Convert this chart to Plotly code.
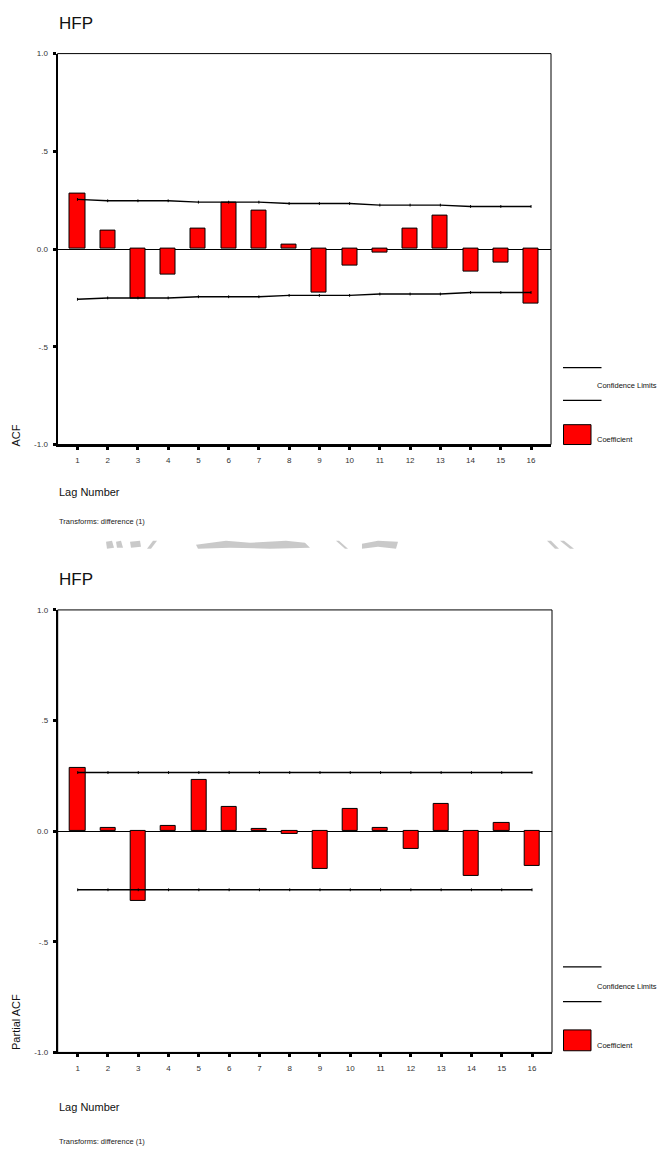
import plotly.graph_objects as go

# ---- data -------------------------------------------------------------
lags = list(range(1, 17))
lag_labels = [str(k) for k in lags]

acf_coef = [0.283, 0.095, -0.255, -0.130, 0.103, 0.239, 0.196, 0.024,
            -0.222, -0.086, -0.020, 0.103, 0.170, -0.115, -0.069, -0.281]
acf_upper = [0.254, 0.247, 0.247, 0.247, 0.240, 0.240, 0.240, 0.233,
             0.233, 0.233, 0.225, 0.225, 0.225, 0.218, 0.218, 0.218]
acf_lower = [-0.257, -0.250, -0.250, -0.250, -0.244, -0.244, -0.244, -0.237,
             -0.237, -0.237, -0.230, -0.230, -0.230, -0.222, -0.222, -0.222]

pacf_coef = [0.284, 0.016, -0.317, 0.022, 0.232, 0.110, 0.009, -0.013,
             -0.172, 0.101, 0.016, -0.080, 0.124, -0.204, 0.037, -0.159]
pacf_upper = [0.265] * 16
pacf_lower = [-0.265] * 16

y_tickvals = [-1.0, -0.5, 0.0, 0.5, 1.0]
y_ticktext = ["-1.0", "-.5", "0.0", ".5", "1.0"]

series_name = "HFP"
x_title = "Lag Number"
note_text = "Transforms: difference (1)"
legend_ci = "Confidence Limits"
legend_coef = "Coefficient"

# ---- page geometry (pixels) ------------------------------------------
W, H = 660, 1151
FONT = "Liberation Sans, Arial, sans-serif"


def px(x):
    return x / W


def py(y):
    return 1 - y / H


panels = [
    dict(coef=acf_coef, up=acf_upper, lo=acf_lower, ytitle="ACF",
         left=57.5, right=551.0, top=50.0, bottom=444.0, title_y=20,
         lag_y=492, note_y=521.5, ytitle_y=435,
         leg_l1=366.5, leg_txt=384.5, leg_l2=399.5, leg_box=(424, 444), leg_coef=438.5),
    dict(coef=pacf_coef, up=pacf_upper, lo=pacf_lower, ytitle="Partial ACF",
         left=57.7, right=552.0, top=610.7, bottom=1056.7, title_y=580,
         lag_y=1112, note_y=1146, ytitle_y=1026,
         leg_l1=970.5, leg_txt=990.5, leg_l2=1005.5, leg_box=(1034, 1055), leg_coef=1050),
]

fig = go.Figure()
shapes = []
annotations = []

for i, p in enumerate(panels):
    n = "" if i == 0 else str(i + 1)
    xa, ya = "x" + n, "y" + n

    fig.add_trace(go.Bar(
        x=lags, y=p["coef"], width=0.5, xaxis=xa, yaxis=ya,
        marker=dict(color="#FF0000", line=dict(color="#000000", width=1)),
        showlegend=False, hoverinfo="skip"))
    for band in (p["up"], p["lo"]):
        fig.add_trace(go.Scatter(
            x=lags, y=band, mode="lines+markers", xaxis=xa, yaxis=ya,
            line=dict(color="#000000", width=1.4),
            marker=dict(symbol="line-ns", size=2,
                        line=dict(color="#000000", width=1)),
            showlegend=False, hoverinfo="skip"))

    common_x = dict(
        domain=[px(p["left"]), px(p["right"])], range=[0.34, 16.66],
        tickmode="array", tickvals=lags, ticktext=lag_labels,
        ticks="outside", ticklen=3, tickwidth=3, tickcolor="#000000",
        showline=True, linewidth=2, linecolor="#000000",
        showgrid=False, zeroline=False, fixedrange=True,
        ticklabelstandoff=4,
        tickfont=dict(family=FONT, size=8, color="#333333"),
        anchor=ya)
    common_y = dict(
        domain=[py(p["bottom"]), py(p["top"])], range=[-1, 1],
        tickmode="array", tickvals=y_tickvals, ticktext=y_ticktext,
        ticks="outside", ticklen=3, tickwidth=3, tickcolor="#000000",
        showline=True, linewidth=2, linecolor="#000000",
        showgrid=False, zeroline=True, zerolinecolor="#000000",
        zerolinewidth=1, fixedrange=True, ticklabelstandoff=3,
        tickfont=dict(family=FONT, size=8, color="#333333"),
        anchor=xa)
    fig.update_layout(**{"xaxis" + n: common_x, "yaxis" + n: common_y})

    # thin frame around the plotting area
    shapes.append(dict(type="rect", xref=xa + " domain", yref=ya + " domain",
                       x0=0, x1=1, y0=0, y1=1,
                       line=dict(color="#000000", width=1), layer="above"))

    # chart title and captions
    annotations += [
        dict(text=series_name, x=px(57), y=py(p["title_y"]), xanchor="left",
             yanchor="middle", font=dict(family=FONT, size=17, color="#111111")),
        dict(text=x_title, x=px(56.5), y=py(p["lag_y"]), xanchor="left",
             yanchor="middle", font=dict(family=FONT, size=11, color="#111111")),
        dict(text=note_text, x=px(56.5), y=py(p["note_y"]), xanchor="left",
             yanchor="middle", font=dict(family=FONT, size=7.5, color="#222222")),
        dict(text=p["ytitle"], x=px(16), y=py(p["ytitle_y"]), xanchor="center",
             yanchor="middle", textangle=-90,
             font=dict(family=FONT, size=11, color="#111111")),
        dict(text=legend_ci, x=px(594.5), y=py(p["leg_txt"]), xanchor="left",
             yanchor="middle", font=dict(family=FONT, size=7.5, color="#111111")),
        dict(text=legend_coef, x=px(594.5), y=py(p["leg_coef"]), xanchor="left",
             yanchor="middle", font=dict(family=FONT, size=7.5, color="#111111")),
    ]

    # legend keys
    for ly in (p["leg_l1"], p["leg_l2"]):
        shapes.append(dict(type="line", xref="paper", yref="paper",
                           x0=px(563), x1=px(601.5), y0=py(ly), y1=py(ly),
                           line=dict(color="#000000", width=1.4)))
    b0, b1 = p["leg_box"]
    shapes.append(dict(type="rect", xref="paper", yref="paper",
                       x0=px(563.5), x1=px(591), y0=py(b1), y1=py(b0),
                       fillcolor="#FF0000", line=dict(color="#000000", width=1)))

# faint grey scan marks between the two charts
smudges = [
    [(106, 542), (112, 541), (114, 548), (107, 549)],
    [(116, 542), (121, 541), (123, 548), (117, 548)],
    [(130, 542), (140, 541), (141, 547), (131, 548)],
    [(153, 541), (157, 541), (151, 549), (147, 549)],
    [(196, 545), (226, 541), (250, 543), (286, 541), (305, 543), (310, 548),
     (270, 549), (230, 548), (198, 549)],
    [(336, 541), (339, 541), (348, 549), (345, 549)],
    [(362, 544), (378, 541), (398, 542), (396, 549), (378, 547), (362, 549)],
    [(547, 541), (551, 541), (559, 549), (555, 549)],
    [(560, 541), (564, 541), (574, 549), (570, 549)],
]
for poly in smudges:
    path = "M " + " L ".join(f"{px(a):.5f},{py(b):.5f}" for a, b in poly) + " Z"
    shapes.append(dict(type="path", xref="paper", yref="paper", path=path,
                       fillcolor="rgba(165,165,165,0.6)", line=dict(width=0)))

fig.update_layout(
    width=W, height=H, autosize=False,
    margin=dict(l=0, r=0, t=0, b=0, pad=0),
    paper_bgcolor="#FFFFFF", plot_bgcolor="#FFFFFF",
    bargap=0, showlegend=False,
    shapes=shapes, annotations=[dict(a, xref="paper", yref="paper", showarrow=False)
                                for a in annotations],
)

fig.write_html("out.html")
